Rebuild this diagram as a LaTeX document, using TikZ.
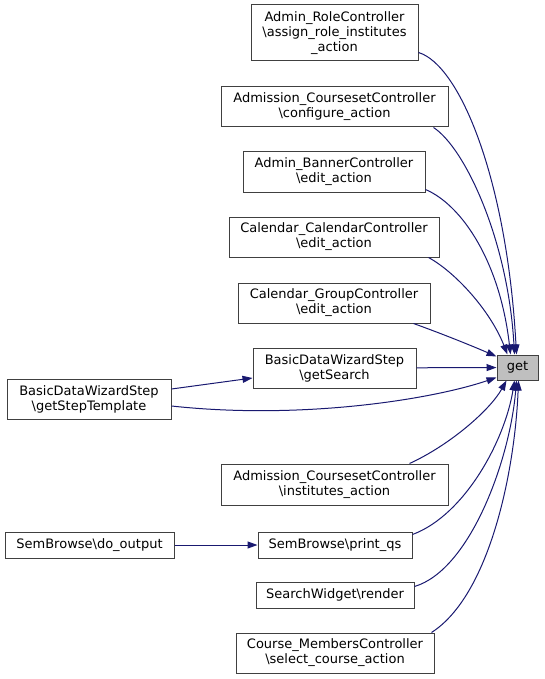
\documentclass[tikz,border=0pt]{standalone}
\usepackage{fontspec}
\setmainfont{DejaVu Sans}
\usepackage{xcolor}
\usepackage{tikz}
\usetikzlibrary{arrows.meta}
\definecolor{edgenavy}{RGB}{25,25,112}
\definecolor{rootgray}{RGB}{191,191,191}
\definecolor{boxline}{RGB}{64,64,64}

\begin{document}
\begin{tikzpicture}[
    x=1pt, y=-1pt,
    fnode/.style={draw=boxline, line width=1pt, fill=white, inner sep=0pt, align=center, font=\fontsize{13}{15}\selectfont},
    call/.style={->, draw=edgenavy, line width=1pt},
    >={Triangle[length=10pt, width=7pt, fill=edgenavy]}
]
\useasboundingbox (0,0) rectangle (544,679);

\node[fnode, minimum width=167, minimum height=56] (rolectl) at (334.5, 33) {Admin\_RoleController\\\textbackslash assign\_role\_institutes\\\_action};
\node[fnode, minimum width=227, minimum height=40] (cfgaction) at (334.5, 107) {Admission\_CoursesetController\\\textbackslash configure\_action};
\node[fnode, minimum width=182, minimum height=40] (banneredit) at (334, 172) {Admin\_BannerController\\\textbackslash edit\_action};
\node[fnode, minimum width=210, minimum height=40] (caledit) at (334, 237) {Calendar\_CalendarController\\\textbackslash edit\_action};
\node[fnode, minimum width=192, minimum height=40] (groupedit) at (334, 303) {Calendar\_GroupController\\\textbackslash edit\_action};
\node[fnode, minimum width=163, minimum height=40] (getsearch) at (334.5, 368) {BasicDataWizardStep\\\textbackslash getSearch};
\node[fnode, fill=rootgray, minimum width=41, minimum height=25] (get) at (517.5, 367.5) {get};
\node[fnode, minimum width=164, minimum height=40] (steptpl) at (89, 399) {BasicDataWizardStep\\\textbackslash getStepTemplate};
\node[fnode, minimum width=227, minimum height=41] (instaction) at (334.5, 484.5) {Admission\_CoursesetController\\\textbackslash institutes\_action};
\node[fnode, minimum width=169, minimum height=26] (dooutput) at (89.5, 545) {SemBrowse\textbackslash do\_output};
\node[fnode, minimum width=154, minimum height=26] (printqs) at (335, 545) {SemBrowse\textbackslash print\_qs};
\node[fnode, minimum width=158, minimum height=26] (searchrender) at (335, 595) {SearchWidget\textbackslash render};
\node[fnode, minimum width=198, minimum height=40] (selectcourse) at (335, 653) {Course\_MembersController\\\textbackslash select\_course\_action};

\draw[call] ([yshift=9pt]rolectl.south east) .. controls (460,65) and (507,180) .. ([xshift=-1pt]get.north);
\draw[call] ([xshift=-15pt]cfgaction.south east) .. controls (465,148) and (508,240) .. ([xshift=-3pt]get.north);
\draw[call] ([yshift=3pt]banneredit.south east) .. controls (462,205) and (500,262) .. ([xshift=-7pt]get.north);
\draw[call] ([xshift=-11pt]caledit.south east) .. controls (455,272) and (490,310) .. ([xshift=-10pt]get.north);
\draw[call] ([xshift=-17pt]groupedit.south east) .. controls (440,333) and (470,345) .. ([yshift=-2pt]get.north west);
\draw[call] (getsearch) -- (get);
\draw[call] ([yshift=-7pt]steptpl.east) .. controls (300,420) and (430,400) .. ([yshift=3pt]get.south west);
\draw[call] ([yshift=10pt]steptpl.east) -- ([yshift=-10pt]getsearch.west);
\draw[call] ([xshift=-39pt]instaction.north east) .. controls (450,445) and (490,410) .. ([xshift=-11pt]get.south);
\draw[call] ([yshift=-3pt]printqs.north east) .. controls (465,515) and (505,440) .. ([xshift=-3pt]get.south);
\draw[call] ([yshift=-5pt]searchrender.north east) .. controls (470,570) and (510,460) .. ([xshift=-1pt]get.south);
\draw[call] ([xshift=-3pt]selectcourse.north east) .. controls (490,595) and (515,470) .. ([xshift=1pt]get.south);
\draw[call] (dooutput) -- (printqs);
\end{tikzpicture}
\end{document}
